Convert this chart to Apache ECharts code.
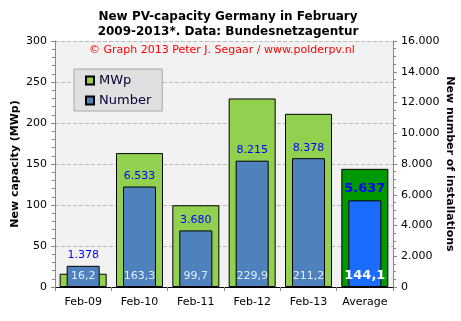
<!DOCTYPE html>
<html><head><meta charset="utf-8">
<script src="https://cdn.jsdelivr.net/npm/echarts@6/dist/echarts.min.js"></script>
<style>html,body{margin:0;padding:0;background:#fff}#c{width:461px;height:321px}</style>
</head><body><div id="c"></div>
<script>
var categories = ['Feb-09','Feb-10','Feb-11','Feb-12','Feb-13','Average'];
var mwp = [16.2, 163.3, 99.7, 229.9, 211.2, 144.1];
var installs = [1378, 6533, 3680, 8215, 8378, 5637];
var leftTicks = [0, 50, 100, 150, 200, 250, 300];
var rightTicks = [0, 2000, 4000, 6000, 8000, 10000, 12000, 14000, 16000];
var leftAxisName = 'New capacity (MWp)';
var rightAxisName = 'New number of installations';

var F = 'DejaVu Sans';
function dots(n){ return String(Math.round(n)).replace(/\B(?=(\d{3})+(?!\d))/g,'.'); }
function comma(v){ return v.toFixed(1).replace('.',','); }
var last = categories.length - 1;

var greenData = mwp.map(function(v,i){
  return i===last ? {value:v, itemStyle:{color:'#009900'}} : v;
});
var blueData = installs.map(function(v,i){
  return i===last ? {value:v, itemStyle:{color:'#1a6cff'}, label:{fontWeight:'bold', fontSize:13}} : v;
});
var mwpLabelData = mwp.map(function(v,i){
  return i===last ? {value:v, label:{fontWeight:'bold', fontSize:13, color:'#ffffff'}} : v;
});

var chart = echarts.init(document.getElementById('c'), null, {renderer:'canvas'});
chart.setOption({
  animation:false,
  backgroundColor:'#ffffff',
  title:{
    text:'New PV-capacity Germany in February\n2009-2013*. Data: Bundesnetzagentur',
    left:223, top:4, textAlign:'center',
    textStyle:{fontFamily:F, fontSize:12, fontWeight:'bold', color:'#000', lineHeight:15}
  },
  graphic:[{
    type:'text', left:89, top:45,
    style:{text:'© Graph 2013 Peter J. Segaar / www.polderpv.nl', fill:'#ff0000', font:'11px "DejaVu Sans"'},
    z:100
  },{
    type:'text', x:15, y:164, rotation:Math.PI/2,
    style:{text:leftAxisName, fill:'#000', font:'bold 11px "DejaVu Sans"', align:'center', verticalAlign:'middle'}
  },{
    type:'text', x:450, y:164, rotation:-Math.PI/2,
    style:{text:rightAxisName, fill:'#000', font:'bold 11px "DejaVu Sans"', align:'center', verticalAlign:'middle'}
  }],
  legend:{
    data:['MWp','Number'], orient:'vertical', left:74, top:69,
    backgroundColor:'#e0e0e0', borderColor:'#a8a8a8', borderWidth:1,
    padding:[5,11,4,11], itemWidth:8, itemHeight:8, itemGap:7,
    icon:'rect',
    textStyle:{fontFamily:F, fontSize:13, color:'#000033'}
  },
  grid:{left:55, right:68, top:41, bottom:34, show:true, backgroundColor:'#f2f2f2', borderWidth:0,
    containLabel:false, outerBoundsMode:'none'},
  xAxis:[{
    type:'category', data:categories, position:'bottom',
    axisLine:{lineStyle:{color:'#888'}},
    axisTick:{show:true, alignWithLabel:false, length:4, lineStyle:{color:'#888'}},
    axisLabel:{fontFamily:F, fontSize:11, color:'#000', margin:10, interval:0}
  },{
    type:'category', data:categories, position:'top',
    axisLine:{show:true, lineStyle:{color:'#000', width:1}},
    axisTick:{show:false}, axisLabel:{show:false}
  }],
  yAxis:[{
    type:'value', min:leftTicks[0], max:leftTicks[leftTicks.length-1], interval:50,
    axisLine:{show:true, lineStyle:{color:'#888'}},
    axisTick:{show:true, length:4, lineStyle:{color:'#888'}},
    minorTick:{show:true, splitNumber:5, length:3, lineStyle:{color:'#888'}},
    axisLabel:{fontFamily:F, fontSize:11, color:'#000', margin:8},
    splitLine:{show:true, lineStyle:{color:'#bbbbbb', type:'dashed'}}
  },{
    type:'value', min:rightTicks[0], max:rightTicks[rightTicks.length-1], interval:2000,
    axisLine:{show:true, lineStyle:{color:'#888'}},
    axisTick:{show:true, length:4, lineStyle:{color:'#888'}},
    minorTick:{show:true, splitNumber:4, length:3, lineStyle:{color:'#888'}},
    axisLabel:{fontFamily:F, fontSize:11, color:'#000', margin:8, formatter:function(v){return dots(v);}},
    splitLine:{show:false}
  }],
  series:[{
    name:'MWp', type:'bar', xAxisIndex:0, yAxisIndex:0, data:greenData,
    barWidth:47, barGap:'-100%', z:2,
    itemStyle:{color:'#92d050', borderColor:'#000', borderWidth:1}
  },{
    name:'Number', type:'bar', xAxisIndex:1, yAxisIndex:1, data:blueData,
    barWidth:33, z:3,
    itemStyle:{color:'#4f81bd', borderColor:'#000', borderWidth:1},
    label:{show:true, position:'top', distance:5, fontFamily:F, fontSize:11, color:'#0000ff',
      formatter:function(p){return dots(p.value);}}
  },{
    name:'MWp label', type:'bar', xAxisIndex:0, yAxisIndex:0, data:mwpLabelData,
    barWidth:47, barGap:'-100%', z:4, silent:true,
    itemStyle:{color:'rgba(0,0,0,0)', borderWidth:0},
    label:{show:true, position:'insideBottom', distance:5, fontFamily:F, fontSize:11, color:'#dff0ff',
      formatter:function(p){return comma(p.value);}}
  }]
});
</script></body></html>
